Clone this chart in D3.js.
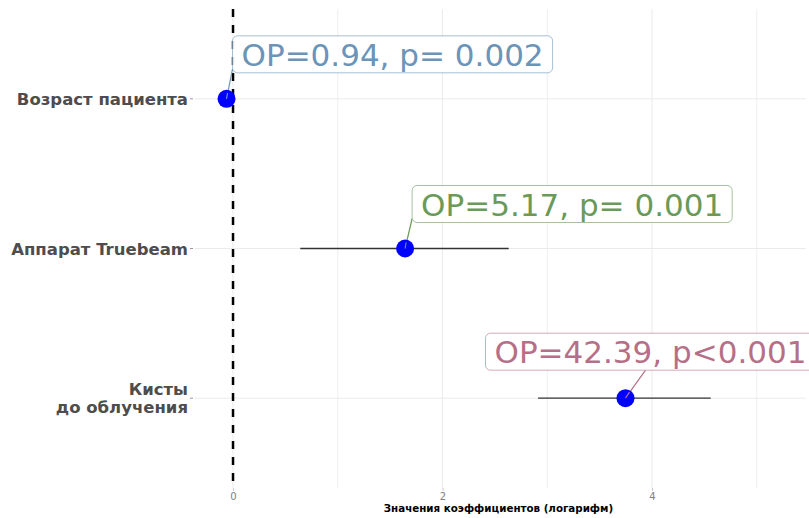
<!DOCTYPE html>
<html>
<head>
<meta charset="utf-8">
<script src="https://cdn.jsdelivr.net/npm/d3@7"></script>
<style>
  html, body { margin: 0; padding: 0; background: #fff; }
  svg { display: block; font-family: "DejaVu Sans", sans-serif; }
</style>
</head>
<body>
<svg id="chart" width="809" height="518"></svg>
<script>
// Odds ratios with 95% CI from the logistic regression
const predictors = ["Возраст пациента", "Аппарат Truebeam", "Кисты\nдо облучения"];
const oddsRatio  = [0.94, 5.17, 42.39];
const ciLow      = [0.91, 1.90, 18.4];
const ciHigh     = [0.97, 13.9, 95.6];
const pLabels    = ["p= 0.002", "p= 0.001", "p<0.001"];
const labelColors = ["#6b94b8", "#6a9a5a", "#b76f88"];
const xTicks     = [0, 2, 4];
const xGrid      = [0, 1, 2, 3, 4, 5];

const svg = d3.select("#chart");
const panel = { left: 195, right: 806, top: 9, bottom: 488 };

const x = d3.scaleLinear()
  .domain([-0.363, 5.47])
  .range([panel.left, panel.right]);

const y = d3.scalePoint()
  .domain(predictors)
  .range([panel.top, panel.bottom])
  .padding(0.6);

const rows = predictors.map((name, i) => ({
  name,
  est: Math.log(oddsRatio[i]),
  lo: Math.log(ciLow[i]),
  hi: Math.log(ciHigh[i]),
  label: "ОР=" + oddsRatio[i].toFixed(2) + ", " + pLabels[i],
  color: labelColors[i]
}));

// grid
const grid = svg.append("g");
grid.selectAll("line.v").data(xGrid).join("line")
  .attr("x1", d => x(d)).attr("x2", d => x(d))
  .attr("y1", panel.top).attr("y2", panel.bottom)
  .attr("stroke", "#ebebeb").attr("stroke-width", d => d % 2 === 0 ? 1 : 0.8);
grid.selectAll("line.h").data(predictors).join("line")
  .attr("x1", panel.left).attr("x2", panel.right)
  .attr("y1", d => y(d)).attr("y2", d => y(d))
  .attr("stroke", "#ebebeb").attr("stroke-width", 1);

// reference line at log(OR) = 0
svg.append("line")
  .attr("x1", x(0)).attr("x2", x(0))
  .attr("y1", panel.top).attr("y2", panel.bottom)
  .attr("stroke", "#000").attr("stroke-width", 2.5)
  .attr("stroke-dasharray", "8,8");

// x axis
const xAxis = svg.append("g")
  .attr("transform", `translate(0,${panel.bottom})`)
  .call(d3.axisBottom(x).tickValues(xTicks).tickSize(3).tickPadding(2).tickFormat(d3.format("d")));
xAxis.select(".domain").remove();
xAxis.selectAll(".tick line").attr("stroke", "#cccccc");
xAxis.selectAll(".tick text").attr("fill", "#808080").attr("font-size", 10)
  .attr("font-family", "DejaVu Sans");

svg.append("text")
  .attr("x", (panel.left + panel.right) / 2 - 2)
  .attr("y", 512)
  .attr("text-anchor", "middle")
  .attr("font-size", 10.3)
  .attr("font-weight", "bold")
  .attr("fill", "#000")
  .text("Значения коэффициентов (логарифм)");

// y axis labels
const yAxis = svg.append("g");
yAxis.selectAll("line").data(predictors).join("line")
  .attr("x1", panel.left - 5).attr("x2", panel.left - 2)
  .attr("y1", d => y(d)).attr("y2", d => y(d))
  .attr("stroke", "#999").attr("stroke-width", 1);
yAxis.selectAll("text").data(predictors).join("text")
  .attr("text-anchor", "end")
  .attr("font-size", 16.5)
  .attr("font-weight", "bold")
  .attr("fill", "#4d4d4d")
  .each(function (d) {
    const lines = d.split("\n");
    const t = d3.select(this);
    const lh = 18;
    const y0 = y(d) - (lines.length - 1) * lh / 2 + 6;
    lines.forEach((ln, k) => {
      t.append("tspan").attr("x", panel.left - 7).attr("y", y0 + k * lh).text(ln);
    });
  });

// confidence intervals
svg.append("g").selectAll("line").data(rows).join("line")
  .attr("x1", d => x(d.lo)).attr("x2", d => x(d.hi))
  .attr("y1", d => y(d.name)).attr("y2", d => y(d.name))
  .attr("stroke", "#333").attr("stroke-width", 1.3);

// label placement (pixel offsets of the box's top-left corner from the point)
const boxOffsets = [[6, -63], [7, -63], [-140, -65]];
const fontSize = 31, padX = 9, boxH = 37;

const labels = svg.append("g");
rows.forEach((d, i) => {
  const px = x(d.est), py = y(d.name);
  const bx = px + boxOffsets[i][0], by = py + boxOffsets[i][1];
  const g = labels.append("g");
  const txt = g.append("text")
    .attr("x", bx + padX).attr("y", by + boxH - 7)
    .attr("font-size", fontSize)
    .attr("fill", d.color)
    .text(d.label);
  const tw = txt.node().getComputedTextLength();
  g.insert("rect", "text")
    .attr("x", bx).attr("y", by)
    .attr("width", tw + 2 * padX).attr("height", boxH)
    .attr("rx", 5).attr("ry", 5)
    .attr("fill", "#fff").attr("fill-opacity", 0.9)
    .attr("stroke", d.color).attr("stroke-opacity", 0.6).attr("stroke-width", 1);
  // leader segment from point to the nearest edge of the box
  const tx = Math.max(bx, Math.min(px + 20, bx + tw + 2 * padX));
  const ty = by + boxH;
  const ex = (i === 2) ? tx : bx;
  const ey = (i === 2) ? ty : by + boxH - 4;
  labels.insert("line", ":first-child")
    .attr("x1", px).attr("y1", py).attr("x2", ex).attr("y2", ey)
    .attr("stroke", d.color).attr("stroke-width", 1.2);
});

// point estimates
svg.append("g").selectAll("circle").data(rows).join("circle")
  .attr("cx", d => x(d.est)).attr("cy", d => y(d.name))
  .attr("r", 9)
  .attr("fill", "#0000ff");

// leader ends visible over the points
rows.forEach((d, i) => {
  const px = x(d.est), py = y(d.name);
  svg.append("line")
    .attr("x1", px).attr("y1", py)
    .attr("x2", px + (i === 2 ? 4 : 1)).attr("y2", py - 6)
    .attr("stroke", d.color).attr("stroke-width", 1.2);
});
</script>
</body>
</html>
